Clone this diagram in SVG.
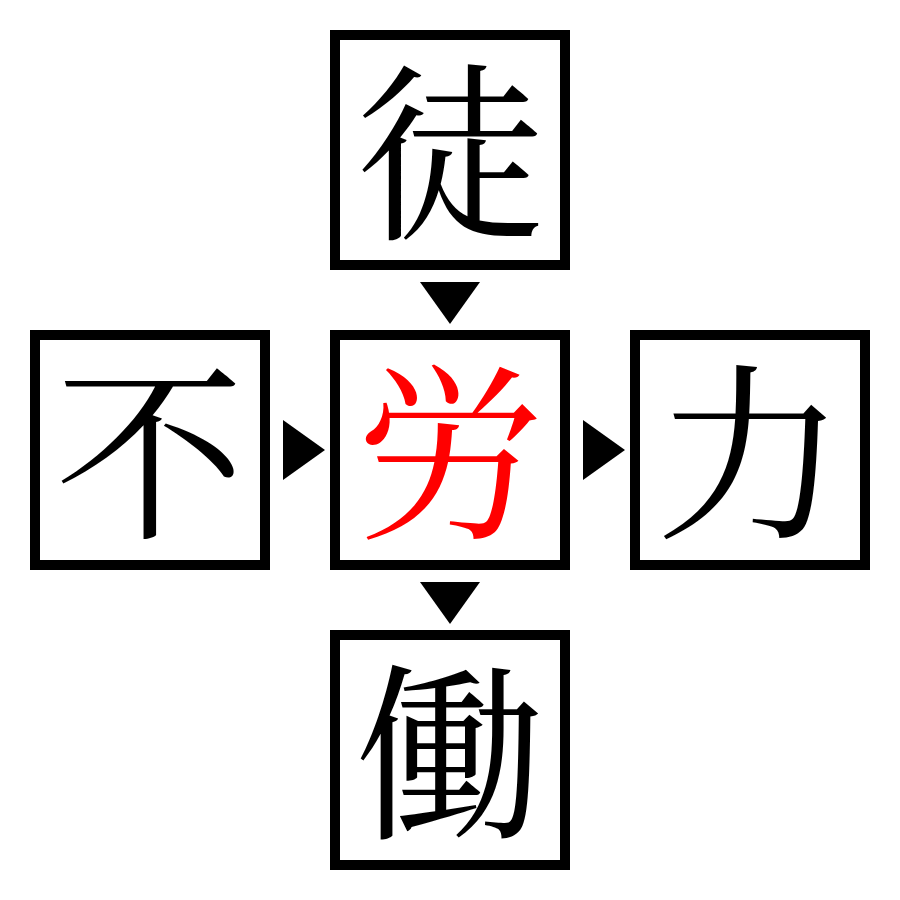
<svg xmlns="http://www.w3.org/2000/svg" width="900" height="900" viewBox="0 0 900 900">
<style>
.box{fill:#fff;stroke:#000;stroke-width:10}
.ch{font-family:"Noto Serif CJK JP","Noto Sans CJK JP",serif;font-size:190px;text-anchor:middle;fill:#000}
.red{fill:#ff0000}
.arr{fill:#000}
</style>
<rect width="900" height="900" fill="#fff"/>
<g id="top"><rect class="box" x="335" y="35" width="230" height="230"/><text class="ch" x="450" y="224">徒</text></g>
<g id="left"><rect class="box" x="35" y="335" width="230" height="230"/><text class="ch" x="150" y="524">不</text></g>
<g id="center"><rect class="box" x="335" y="335" width="230" height="230"/><text class="ch red" x="450" y="524">労</text></g>
<g id="right"><rect class="box" x="635" y="335" width="230" height="230"/><text class="ch" x="750" y="524">力</text></g>
<g id="bottom"><rect class="box" x="335" y="635" width="230" height="230"/><text class="ch" x="450" y="824">働</text></g>
<g id="connectors">
<polygon class="arr" points="420,282 480,282 450,324"/>
<polygon class="arr" points="283,420 283,480 325,450"/>
<polygon class="arr" points="583,420 583,480 625,450"/>
<polygon class="arr" points="420,582 480,582 450,624"/>
</g>
</svg>
